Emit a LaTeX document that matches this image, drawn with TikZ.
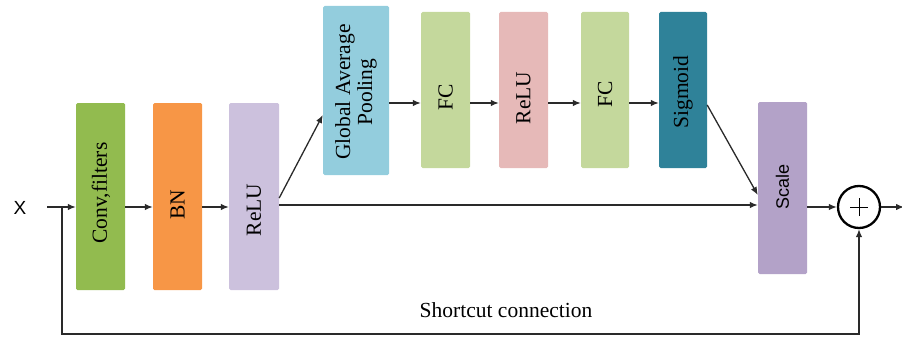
\documentclass[tikz,border=0pt]{standalone}
\usepackage{fontspec}
\setmainfont{Liberation Serif}
\setsansfont{Liberation Sans}
\usetikzlibrary{arrows.meta}
\definecolor{cconv}{HTML}{92BB4F}
\definecolor{cbn}{HTML}{F79646}
\definecolor{crelu}{HTML}{CCC1DD}
\definecolor{cgap}{HTML}{93CDDD}
\definecolor{cfc}{HTML}{C4D89C}
\definecolor{crelub}{HTML}{E6B9B8}
\definecolor{csig}{HTML}{2F8299}
\definecolor{cscale}{HTML}{B3A2C8}
\definecolor{cline}{HTML}{2A2A2A}
\tikzset{
  blk/.style={draw=none, rounded corners=1.5pt, inner sep=0pt},
  lbl/.style={rotate=90, inner sep=0pt, font=\fontsize{21.5}{24}\selectfont, align=center},
  conn/.style={draw=cline, line width=1.3pt, -{Latex[length=8pt,width=6.5pt]}},
  plain/.style={draw=cline, line width=1.3pt}
}
\begin{document}
\begin{tikzpicture}[x=1pt,y=-1pt]
\useasboundingbox (0,0) rectangle (902,337);
% blocks
\node[blk, fill=cconv, minimum width=49pt, minimum height=187pt] (conv) at (100.5,196.5) {};
\node[blk, fill=cbn, minimum width=49pt, minimum height=187pt] (bn) at (177.5,196.5) {};
\node[blk, fill=crelu, minimum width=50pt, minimum height=187pt] (relu) at (254,196.5) {};
\node[blk, fill=cgap, minimum width=66pt, minimum height=169pt] (gap) at (356,90.5) {};
\node[blk, fill=cfc, minimum width=49pt, minimum height=156pt] (fca) at (445.5,90) {};
\node[blk, fill=crelub, minimum width=49pt, minimum height=156pt] (relub) at (523.5,90) {};
\node[blk, fill=cfc, minimum width=48pt, minimum height=156pt] (fcb) at (605,90) {};
\node[blk, fill=csig, minimum width=48pt, minimum height=156pt] (sig) at (683,90) {};
\node[blk, fill=cscale, minimum width=49pt, minimum height=172pt] (scale) at (782.5,188) {};
% labels
\node[lbl] (tconv) at (101,193) {Conv,filters};
\node[lbl] (tbn) at (177.5,205) {BN};
\node[lbl] (trelu) at (254,210) {ReLU};
\node[lbl] (tgap) at (356,92) {Global Average\\[-2pt]Pooling};
\node[lbl] (tfca) at (445.5,97) {FC};
\node[lbl] (trelub) at (523.5,98) {ReLU};
\node[lbl] (tfcb) at (605,94) {FC};
\node[lbl] (tsig) at (683,92) {Sigmoid};
\node[lbl, font=\sffamily\fontsize{18}{20}\selectfont] (tscale) at (782.5,187) {Scale};
% sum node
\node[circle, draw=black, line width=2.3pt, minimum size=42pt, inner sep=0pt] (sum) at (859,207) {};
\draw[line width=0.9pt] ([xshift=-9pt]sum.center) -- ([xshift=9pt]sum.center)
  ([yshift=-9pt]sum.center) -- ([yshift=9pt]sum.center);
% input
\node[font=\sffamily\fontsize{19}{21}\selectfont, inner sep=0pt] (x) at (20,208) {X};
\coordinate (in) at (47,207);
\coordinate (split) at (62,207);
\coordinate (out) at (904,207);
\coordinate (bot) at (859,334);
% connectors
\draw[conn] (in) -- (conv.west |- in);
\draw[conn] (conv.east |- in) -- (bn.west |- in);
\draw[conn] (bn.east |- in) -- (relu.west |- in);
\draw[conn] (relu.east |- 0,205) -- (scale.west |- 0,205);
\draw[conn] ([yshift=-1.5pt]relu.east) -- (gap.west |- 0,115);
\draw[conn] (gap.east |- 0,103) -- (fca.west |- 0,103);
\draw[conn] (fca.east |- 0,103) -- (relub.west |- 0,103);
\draw[conn] (relub.east |- 0,103) -- (fcb.west |- 0,103);
\draw[conn] (fcb.east |- 0,103) -- (sig.west |- 0,103);
\draw[conn] (sig.east |- 0,105) -- (scale.west |- 0,195);
\draw[conn] (scale.east |- sum) -- (sum.west);
\draw[conn] (sum.east) -- (out);
\draw[conn] (split) |- (bot) -- (sum.south);
\node[font=\fontsize{21.5}{24}\selectfont, inner sep=0pt] (sc) at (506,310) {Shortcut connection};
\end{tikzpicture}
\end{document}
